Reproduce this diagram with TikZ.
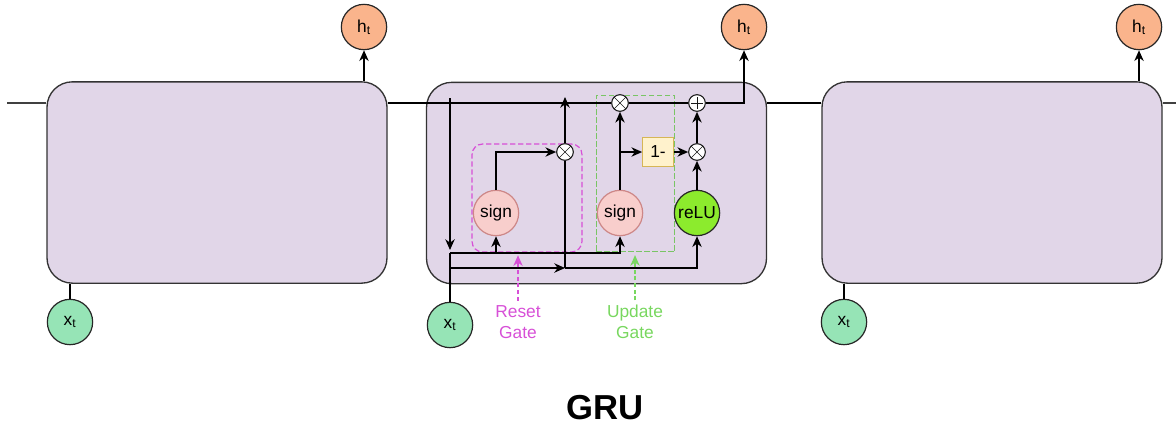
\documentclass[tikz,border=0pt]{standalone}
\usepackage{fontspec}
\setmainfont{Liberation Sans}
\usetikzlibrary{arrows.meta}
\definecolor{cellfill}{RGB}{225,214,232}
\definecolor{hfill}{RGB}{250,180,140}
\definecolor{xfill}{RGB}{150,228,182}
\definecolor{signfill}{RGB}{248,206,204}
\definecolor{signline}{RGB}{205,135,135}
\definecolor{relufill}{RGB}{140,235,45}
\definecolor{onefill}{RGB}{255,242,204}
\definecolor{oneline}{RGB}{214,182,86}
\definecolor{resetc}{RGB}{215,80,215}
\definecolor{updatec}{RGB}{120,215,95}
\tikzset{
  cellbox/.style={draw=black!80, fill=cellfill, rounded corners=19pt, line width=1pt,
    minimum width=255pt, minimum height=151pt},
  unit/.style={circle, draw=black!85, line width=0.9pt, minimum size=34pt, inner sep=0pt,
    font=\fontsize{13}{15}\selectfont},
  opnode/.style={circle, draw=black!90, fill=white, line width=0.8pt, minimum size=12.5pt, inner sep=0pt},
  mulop/.style={opnode, path picture={
    \draw[line width=0.5pt] (path picture bounding box.north west) -- (path picture bounding box.south east);
    \draw[line width=0.5pt] (path picture bounding box.north east) -- (path picture bounding box.south west);}},
  addop/.style={opnode, path picture={
    \draw[line width=0.6pt] ([yshift=-2pt]path picture bounding box.north) -- ([yshift=2pt]path picture bounding box.south);
    \draw[line width=0.6pt] ([xshift=2pt]path picture bounding box.west) -- ([xshift=-2pt]path picture bounding box.east);}},
  arr/.style={-{Stealth[length=8pt,width=7pt,inset=2.5pt]}},
  garr/.style={dash pattern=on 3pt off 2pt, line width=0.8pt, -{Stealth[length=8pt,width=7pt,inset=2.5pt]}},
  gatebox/.style={draw, dash pattern=on 4pt off 2pt, line width=0.9pt, inner sep=0pt},
  lbl/.style={align=center, font=\fontsize{13}{15.75}\selectfont}
}
\begin{document}
\begin{tikzpicture}[x=0.75pt, y=-0.75pt]
\useasboundingbox (0,0) rectangle (1176,437);
\coordinate (s0) at (7,103);
\coordinate (s9) at (1176,103);
\coordinate (dtop) at (450,98);
\coordinate (dend) at (450,250);
\coordinate (b1) at (450,253);
\coordinate (b2) at (450,268);
\coordinate (j) at (565,268);
\coordinate (rtop) at (565,97);
\coordinate (br) at (620,152);
% draws cells
\node[cellbox] (c1) at (217,182.5) {};
\node[cellbox] (c2) at (596.5,183) {};
\node[cellbox] (c3) at (992,182.5) {};
% draws inputs and outputs
\node[unit, fill=hfill] (h1) at (364,27) {h\textsubscript{t}};
\node[unit, fill=hfill] (h2) at (744,27) {h\textsubscript{t}};
\node[unit, fill=hfill] (h3) at (1139,27) {h\textsubscript{t}};
\node[unit, fill=xfill] (x1) at (70,322) {x\textsubscript{t}};
\node[unit, fill=xfill] (x2) at (450,325) {x\textsubscript{t}};
\node[unit, fill=xfill] (x3) at (844,322) {x\textsubscript{t}};
% draws gates
\node[gatebox, draw=resetc, rounded corners=8pt, minimum width=82.5pt, minimum height=81pt] (rbox) at (527,198) {};
\node[gatebox, draw=updatec!80!gray, minimum width=59pt, minimum height=117.5pt] (ubox) at (635.5,173.5) {};
\node[unit, draw=signline, fill=signfill] (sign1) at (496,213) {sign};
\node[unit, draw=signline, fill=signfill] (sign2) at (620,213) {sign};
\node[unit, fill=relufill] (relu) at (697,213) {reLU};
\node[mulop] (mul1) at (565,152) {};
\node[mulop] (mul2) at (620,103) {};
\node[mulop] (mul3) at (697,152) {};
\node[addop] (add) at (697,103) {};
\node[draw=oneline, fill=onefill, line width=0.8pt, minimum width=23pt, minimum height=22pt, inner sep=0pt,
  font=\fontsize{13}{15}\selectfont] (one) at (658,152) {1-};
% labels
\node[lbl, text=resetc] (rg) at (518,322) {Reset\\Gate};
\node[lbl, text=updatec] (ug) at (635,322) {Update\\Gate};
\node[font=\fontsize{26}{30}\selectfont\bfseries] (title) at (605,408) {GRU};
\begin{scope}[line width=1.2pt]
% draws cell state line
\draw[black!75] (s0) -- (s0 -| c1.west);
\draw (s0 -| c1.east) -- (mul2);
\draw (mul2) -- (add);
\draw[arr] (add) -| (h2);
\draw (s0 -| c2.east) -- (s0 -| c3.west);
\draw[black!75] (s0 -| c3.east) -- (s9);
% draws outer edges
\draw[arr] (c1.north -| h1) -- (h1);
\draw[arr] (c3.north -| h3) -- (h3);
\draw (x1) -- (x1 |- c1.south);
\draw (x3) -- (x3 |- c3.south);
% draws inner edges
\draw[arr] (dtop) -- (dend);
\draw (x2) -- (b1);
\draw (b1) -- (b2);
\draw[arr] (b1) -| (sign2);
\draw[arr] (sign1 |- b1) -- (sign1);
\draw[arr] (b2) -- (j);
\draw (j) -- (mul1);
\draw[arr] (mul1) -- (rtop);
\draw[arr] (j) -| (relu);
\draw[arr] (sign1) |- (mul1);
\draw[arr] (sign2) -- (mul2);
\draw[arr] (br) -- (one);
\draw[arr] (one) -- (mul3);
\draw[arr] (relu) -- (mul3);
\draw[arr] (mul3) -- (add);
\end{scope}
% draws gate pointers
\draw[garr, resetc] (rg) -- ([yshift=-2pt]rg |- rbox.south);
\draw[garr, updatec] (ug) -- ([yshift=-2pt]ug |- ubox.south);
\end{tikzpicture}
\end{document}
